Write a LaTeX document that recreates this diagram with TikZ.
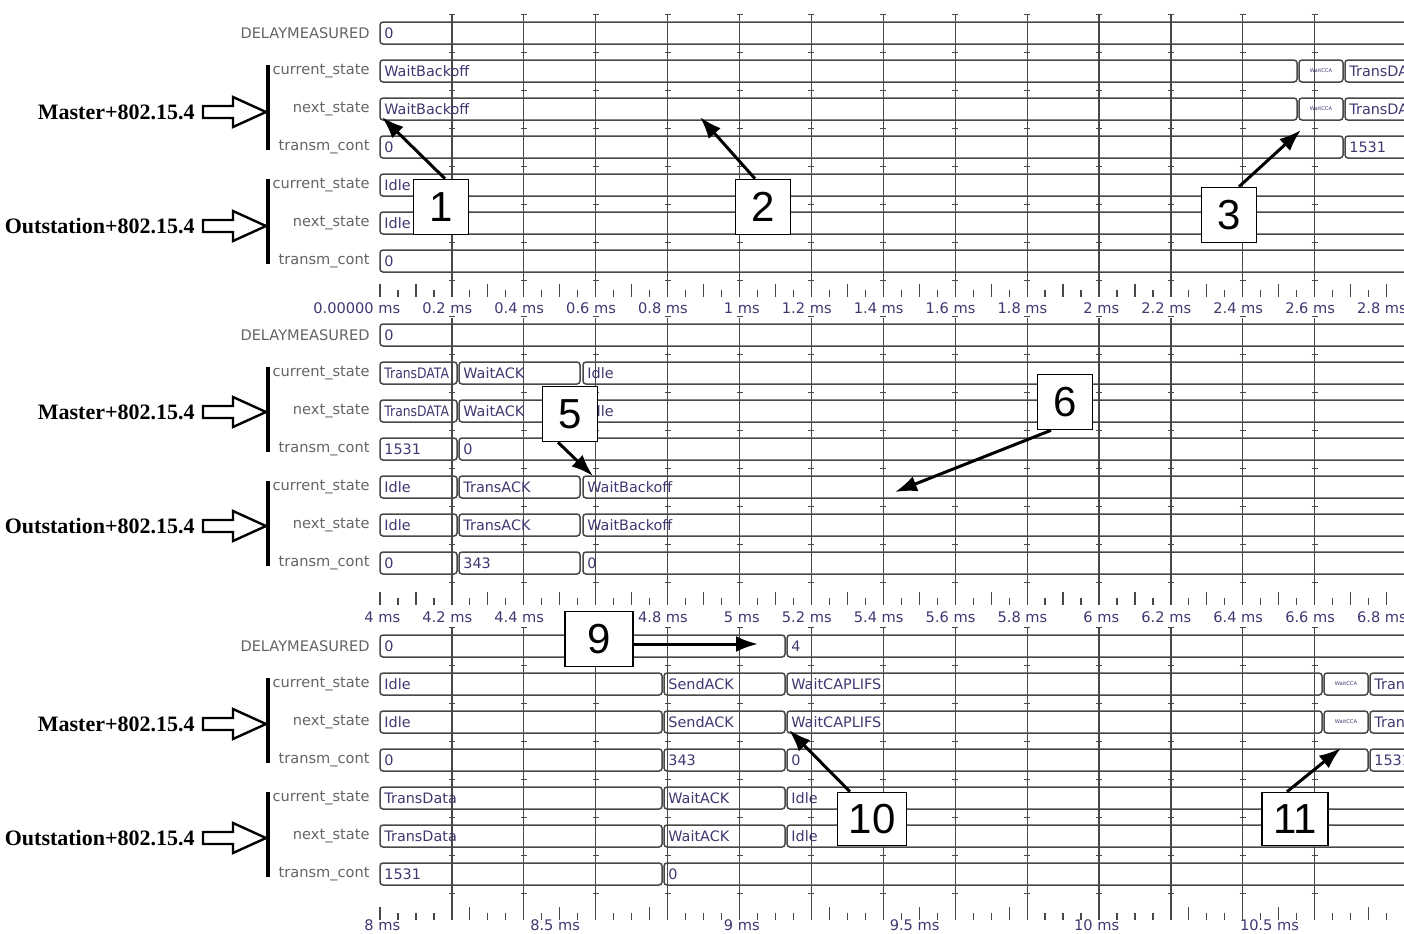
\documentclass[tikz,border=0pt]{standalone}
\usepackage{fontspec}
\setmainfont{Liberation Serif}
\newfontfamily\wavefont{DejaVu Sans}
\newfontfamily\calloutfont{Liberation Sans}
\usetikzlibrary{arrows.meta,positioning,calc}
\definecolor{wgrid}{RGB}{72,72,72}
\definecolor{wname}{RGB}{100,100,100}
\definecolor{wval}{RGB}{62,56,112}

\begin{document}
\begin{tikzpicture}[x=0.5pt,y=-0.5pt,
  wline/.style={wgrid,line width=0.6pt},
  bus/.style={draw=wgrid,line width=0.75pt,rounded corners=1.5pt},
  val/.style={anchor=west,inner sep=0pt,text=wval,font=\wavefont\fontsize{7.2}{8}\selectfont},
  ccaval/.style={inner sep=0pt,text=wval,font=\wavefont\fontsize{2.6}{3}\selectfont},
  signame/.style={anchor=east,inner sep=0pt,text=wname,font=\wavefont\fontsize{7.3}{8}\selectfont},
  tlabel/.style={anchor=west,inner sep=0pt,text=wval,font=\wavefont\fontsize{7.3}{8}\selectfont},
  grp/.style={anchor=east,inner sep=0pt,font=\bfseries\fontsize{11}{13}\selectfont},
  callout/.style={draw,line width=0.8pt,fill=white,minimum width=27.5pt,minimum height=27.5pt,
    inner sep=0pt,font=\calloutfont\fontsize{21}{24}\selectfont},
  pointer/.style={-{Latex[length=11pt,width=8pt]},line width=1.5pt}]
\useasboundingbox (0,0) rectangle (1404,933);
\clip (0,0) rectangle (1404,933);

% grid, row marks and time axis of the three panels
\foreach \ya/\yb/\oy in {15/297/0,318/605/302,628/920/613}{
  \foreach \k in {1,...,13}{
    \draw[wline] (380+71.9*\k,\ya) -- (380+71.9*\k,\yb);
    \foreach \j in {0,...,7}
      \draw[wline,line width=0.5pt] (377+71.9*\k,\oy+14+38*\j) -- (383+71.9*\k,\oy+14+38*\j);
  }
}
\foreach \yb/\lg in {297/2,605/2,920/5}
  \foreach \i in {0,...,57}{
    \pgfmathsetmacro\tl{ifthenelse(mod(\i,\lg)==0,13,7)}
    \draw[wline] (380+17.975*\i,\yb-\tl) -- (380+17.975*\i,\yb);
  }
\foreach \k/\lab in {0/0.00000,1/0.2,2/0.4,3/0.6,4/0.8,5/1,6/1.2,7/1.4,8/1.6,9/1.8,10/2,11/2.2,12/2.4,13/2.6,14/2.8}
  \node[tlabel] (ta-\k) at (378+71.9*\k,308) {\llap{\lab\ }ms};
\foreach \k/\lab in {0/4,1/4.2,2/4.4,3/4.6,4/4.8,5/5,6/5.2,7/5.4,8/5.6,9/5.8,10/6,11/6.2,12/6.4,13/6.6,14/6.8}
  \node[tlabel] (tb-\k) at (378+71.9*\k,617) {\llap{\lab\ }ms};
\foreach \k/\lab in {0/8,1/8.5,2/9,3/9.5,4/10,5/10.5}
  \node[tlabel] (tc-\k) at (378+179.75*\k,925) {\llap{\lab\ }ms};

% signal names, groups and brackets
\foreach \oy/\pn/\gm in {0/a/41,302/b/39,613/c/40}{
  \node[signame] (\pn-dly) at (370,\oy+33) {DELAYMEASURED};
  \foreach \g/\gy/\gname in {m/71/Master+802.15.4,o/185/Outstation+802.15.4}{
    \node[signame] (\pn\g-cs) at (370,\oy+\gy) {current\_state};
    \node[signame] (\pn\g-ns) at (370,\oy+\gy+38) {next\_state};
    \node[signame] (\pn\g-tc) at (370,\oy+\gy+76) {transm\_cont};
    \node[grp] (\pn\g-lbl) at (195,\oy+\gy+\gm) {\gname};
    \draw[line width=1.6pt] (268,\oy+\gy-6) -- (268,\oy+\gy+79);
    \draw[fill=white,line width=1.2pt] (203,\oy+\gy+\gm-6) -- (233,\oy+\gy+\gm-6)
      -- (233,\oy+\gy+\gm-15) -- (266,\oy+\gy+\gm) -- (233,\oy+\gy+\gm+15)
      -- (233,\oy+\gy+\gm+6) -- (203,\oy+\gy+\gm+6) -- cycle;
  }
}

% values, panel 1
\foreach \row/\xa/\xb/\txt in {0/380/1410/0,1/380/1297/WaitBackoff,1/1345/1410/TransDATA,
    2/380/1297/WaitBackoff,2/1345/1410/TransDATA,3/380/1343/0,3/1345/1410/1531,
    4/380/1410/Idle,5/380/1410/Idle,6/380/1410/0}{
  \draw[bus] (\xa,33+38*\row-11) rectangle (\xb,33+38*\row+11);
  \node[val] (a-\row-\xa) at (\xa+4,33+38*\row) {\txt};
}
% values, panel 2
\foreach \row/\xa/\xb/\txt in {0/380/1410/0,
    1/380/457/{\scalebox{0.86}[1]{TransDATA}},1/459/580/WaitACK,1/583/1410/Idle,
    2/380/457/{\scalebox{0.86}[1]{TransDATA}},2/459/580/WaitACK,2/583/1410/Idle,
    3/380/457/1531,3/459/1410/0,
    4/380/457/Idle,4/459/580/TransACK,4/583/1410/WaitBackoff,
    5/380/457/Idle,5/459/580/TransACK,5/583/1410/WaitBackoff,
    6/380/457/0,6/459/580/343,6/583/1410/0}{
  \draw[bus] (\xa,335+38*\row-11) rectangle (\xb,335+38*\row+11);
  \node[val] (b-\row-\xa) at (\xa+4,335+38*\row) {\txt};
}
% values, panel 3
\foreach \row/\xa/\xb/\txt in {0/380/785/0,0/787/1410/4,
    1/380/662/Idle,1/664/785/SendACK,1/787/1322/WaitCAPLIFS,1/1370/1410/TransDATA,
    2/380/662/Idle,2/664/785/SendACK,2/787/1322/WaitCAPLIFS,2/1370/1410/TransDATA,
    3/380/662/0,3/664/785/343,3/787/1368/0,3/1370/1410/1531,
    4/380/662/TransData,4/664/785/WaitACK,4/787/1410/Idle,
    5/380/662/TransData,5/664/785/WaitACK,5/787/1410/Idle,
    6/380/662/1531,6/664/1410/0}{
  \draw[bus] (\xa,646+38*\row-11) rectangle (\xb,646+38*\row+11);
  \node[val] (c-\row-\xa) at (\xa+4,646+38*\row) {\txt};
}
\foreach \y/\xa/\xb in {71/1299/1343,109/1299/1343,684/1324/1368,722/1324/1368}{
  \draw[bus] (\xa,\y-11) rectangle (\xb,\y+11);
  \node[ccaval] (cca-\y) at ({(\xa+\xb)/2},\y) {WaitCCA};
}

% numbered callouts
\node[callout] (c1) at (441,207) {1};
\node[callout] (c2) at (763,207) {2};
\node[callout] (c3) at (1229,215) {3};
\node[callout] (c5) at (570,414) {5};
\node[callout] (c6) at (1065,402) {6};
\node[callout,minimum width=34pt] (c9) at (599,639) {9};
\node[callout,minimum width=34.5pt,minimum height=26.5pt] (c10) at (872,819) {10};
\node[callout,minimum width=33pt,minimum height=26.5pt] (c11) at (1295,819) {11};
\coordinate (p1) at (382,117);
\coordinate (p2) at (700,117);
\coordinate (p3) at (1301,130);
\coordinate (p5) at (593,476);
\coordinate (p6) at (895,492);
\coordinate (p9) at (758,644);
\coordinate (p10) at (789,730);
\coordinate (p11) at (1341,748);
\draw[pointer] ([xshift=2pt]c1.north) -- (p1);
\draw[pointer] ([xshift=-4pt]c2.north) -- (p2);
\draw[pointer] ([xshift=5pt]c3.north) -- (p3);
\draw[pointer] ([xshift=-6pt]c5.south) -- (p5);
\draw[pointer] ([xshift=-7pt]c6.south) -- (p6);
\draw[pointer] ([yshift=-2.5pt]c9.east) -- (p9);
\draw[pointer] ([xshift=-11pt]c10.north) -- (p10);
\draw[pointer] ([xshift=-4pt]c11.north) -- (p11);
\end{tikzpicture}
\end{document}
